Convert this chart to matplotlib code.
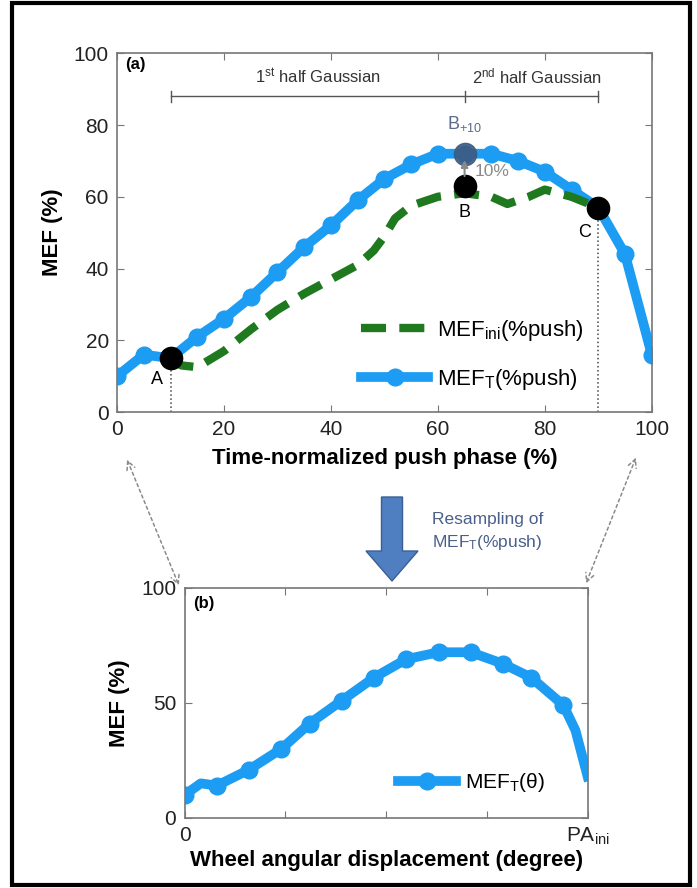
import matplotlib
matplotlib.use("Agg")
import matplotlib.pyplot as plt
from matplotlib.patches import FancyArrowPatch, FancyArrow, Rectangle

plt.rcParams['font.family'] = ['Liberation Sans', 'DejaVu Sans']
plt.rcParams['mathtext.fontset'] = 'custom'
plt.rcParams['mathtext.rm'] = 'Liberation Sans'
plt.rcParams['mathtext.it'] = 'Liberation Sans:italic'
plt.rcParams['mathtext.bf'] = 'Liberation Sans:bold'

# (a) MEF over the time-normalized push phase
push_pct = [0, 5, 10, 15, 20, 25, 30, 35, 40, 45, 50, 55, 60, 65, 70, 75, 80, 85, 90, 95, 100]
mef_t = [10, 16, 15, 21, 26, 32, 39, 46, 52, 59, 65, 69, 72, 72, 72, 70, 67, 62, 57, 44, 16]

ini_pct = [10, 12, 15, 20, 25, 30, 35, 40, 45, 48, 50, 52, 55, 60, 65, 70, 73, 77, 80, 85, 90]
mef_ini = [15, 13, 12.5, 17, 23, 28.5, 33, 37, 41, 45, 49, 54, 57.5, 60, 61, 60, 58, 60, 62, 60, 57]

key_x = [10, 65, 90]
key_y = [15, 63, 57]
key_names = ["A", "B", "C"]
b10_x, b10_y = 65, 72

# (b) resampled over wheel angular displacement (fraction of PA_ini)
theta = [0.0, 0.04, 0.08, 0.16, 0.24, 0.31, 0.39, 0.47, 0.55, 0.63, 0.71, 0.79, 0.86, 0.94, 0.97, 1.0]
mef_theta = [10, 15, 14, 21, 30, 41, 51, 61, 69, 72, 72, 67, 61, 49, 38, 18]
theta_marks = [0.0, 0.08, 0.16, 0.24, 0.31, 0.39, 0.47, 0.55, 0.63, 0.71, 0.79, 0.86, 0.94]

blue = '#1c9cf2'
green = '#1f7a1f'
spine = '#777777'
tick_fs = 15


def style(ax):
    for s in ax.spines.values():
        s.set_color(spine)
        s.set_linewidth(1.2)
    ax.tick_params(direction='in', length=5, color=spine, labelsize=tick_fs,
                   top=True, right=True, labelcolor='#222222', pad=6)


fig = plt.figure(figsize=(6.97, 8.88), dpi=100)

ax = fig.add_axes([0.168, 0.536, 0.767, 0.404])
style(ax)
ax.plot(ini_pct, mef_ini, color=green, lw=6, dashes=(3.0, 1.6),
        label=r'MEF$_{\mathrm{ini}}$(%push)', zorder=3)
ax.plot(push_pct, mef_t, color=blue, lw=7, marker='o', ms=12,
        label=r'MEF$_{\mathrm{T}}$(%push)', zorder=2)
for x, y in zip([key_x[0], key_x[2]], [key_y[0], key_y[2]]):
    ax.plot([x, x], [0, y], ls=':', color='#444444', lw=1.1, zorder=1)
ax.plot(key_x, key_y, 'o', color='black', ms=16, zorder=5)
ax.plot([b10_x], [b10_y], 'o', color='#3d5a80', ms=16, zorder=5, alpha=0.9)
ax.annotate('', xy=(b10_x, b10_y - 1), xytext=(b10_x, key_y[1] + 2),
            arrowprops=dict(arrowstyle='-|>', color='#8a8a8a', lw=1.5), zorder=6)
ax.text(b10_x, b10_y + 5.5, r'B$_{+10}$', color='#5b6b8c', fontsize=13,
        ha='center', va='bottom')
ax.text(b10_x + 1.8, 67, '10%', color='#8a8a8a', fontsize=12.5, ha='left', va='center', zorder=6)
ax.text(key_x[0] - 2.5, 9, key_names[0], fontsize=13, ha='center', va='center')
ax.text(key_x[1], 55.5, key_names[1], fontsize=13, ha='center', va='center')
ax.text(key_x[2] - 2.5, 50, key_names[2], fontsize=13, ha='center', va='center')

# half-Gaussian range bar
ax.plot([key_x[0], key_x[2]], [88, 88], color='#555555', lw=1)
for x in [key_x[0], key_x[1], key_x[2]]:
    ax.plot([x, x], [86.5, 89.5], color='#555555', lw=1)
ax.text((key_x[0] + key_x[1]) / 2, 93.5, r'1$^{\mathrm{st}}$ half Gaussian', fontsize=12,
        color='#333333', ha='center', va='center')
ax.text((key_x[1] + key_x[2]) / 2 + 1, 93.5, r'2$^{\mathrm{nd}}$ half Gaussian', fontsize=12,
        color='#333333', ha='center', va='center')
ax.text(1.5, 97, '(a)', fontsize=12, fontweight='bold', ha='left', va='center')

ax.set_xlim(0, 100)
ax.set_ylim(0, 100)
ax.set_xticks(range(0, 101, 20))
ax.set_yticks(range(0, 101, 20))
ax.set_xlabel('Time-normalized push phase (%)', fontsize=16, fontweight='bold', labelpad=6)
ax.set_ylabel('MEF (%)', fontsize=16, fontweight='bold', labelpad=8)
ax.legend(loc='lower right', bbox_to_anchor=(0.91, 0.0), frameon=False, fontsize=16,
          handlelength=3.0, labelspacing=1.1, handletextpad=0.4)

ax2 = fig.add_axes([0.265, 0.079, 0.578, 0.259])
style(ax2)
ax2.plot(theta, mef_theta, color=blue, lw=7, marker='o', ms=12,
         markevery=[theta.index(t) for t in theta_marks], label=r'MEF$_{\mathrm{T}}$(θ)')
ax2.set_xlim(0, 1)
ax2.set_ylim(0, 100)
ax2.set_yticks([0, 50, 100])
ax2.set_xticks([0, 0.25, 0.5, 0.75, 1])
ax2.set_xticklabels(['0', '', '', '', r'PA$_{\mathrm{ini}}$'])
ax2.text(0.02, 93, '(b)', fontsize=12, fontweight='bold', ha='left', va='center')
ax2.set_xlabel('Wheel angular displacement (degree)', fontsize=16, fontweight='bold', labelpad=2)
ax2.set_ylabel('MEF (%)', fontsize=16, fontweight='bold', labelpad=8)
ax2.legend(loc='lower right', bbox_to_anchor=(0.94, 0.02), frameon=False, fontsize=15,
           handlelength=2.8, handletextpad=0.4)

# connectors between panels
tf = fig.transFigure
for (x0, y0), (x1, y1) in [((126, 457), (180, 588)), ((637, 455), (585, 586))]:
    arr = FancyArrowPatch((x0 / 697, 1 - y0 / 888), (x1 / 697, 1 - y1 / 888), transform=tf,
                          arrowstyle='<->,head_length=6,head_width=3', ls=(0, (2, 2)),
                          color='#8a8a8a', lw=1.1)
    fig.add_artist(arr)
fig.add_artist(FancyArrow(392 / 697, 1 - 497 / 888, 0, -(84 / 888), width=21 / 697,
                          head_width=52 / 697, head_length=30 / 888,
                          length_includes_head=True, transform=tf,
                          facecolor='#4f7fc0', edgecolor='#3a5f95', lw=1))
fig.text(432 / 697, 1 - 532 / 888, 'Resampling of\n' + r'MEF$_{\mathrm{T}}$(%push)',
         fontsize=12.5, color='#4a5f8a', ha='left', va='center', linespacing=1.4)

fig.add_artist(Rectangle((12 / 697, 3 / 888), 678 / 697, 882 / 888, transform=tf,
                         fill=False, edgecolor='black', lw=3))

fig.savefig('out.png', dpi=100)
